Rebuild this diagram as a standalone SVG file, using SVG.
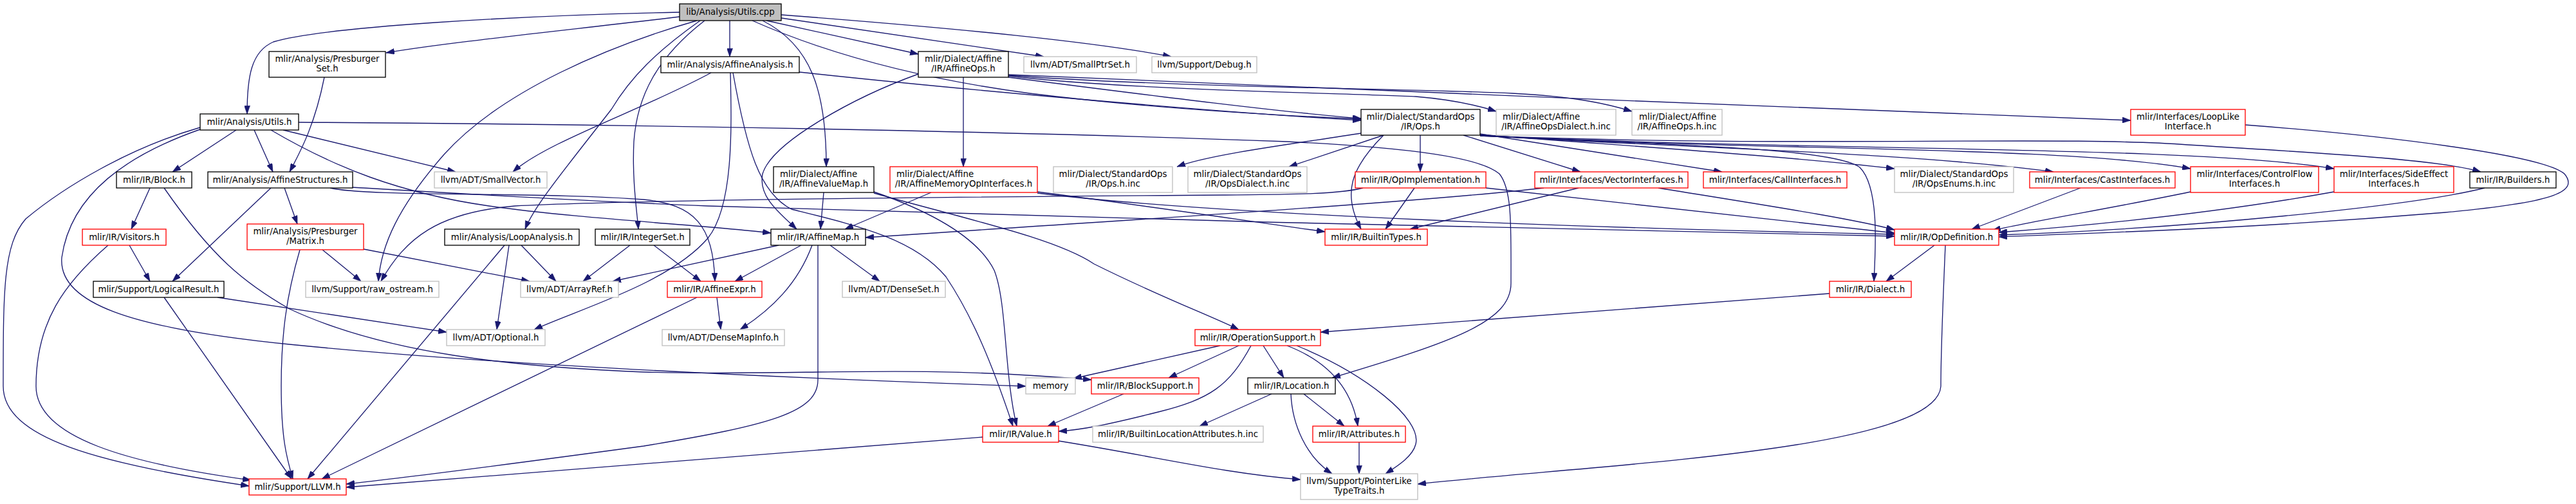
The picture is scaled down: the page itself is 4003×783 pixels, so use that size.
<svg xmlns="http://www.w3.org/2000/svg" width="4003" height="783" viewBox="0 0 4003 783">
<style>
text{font-family:"DejaVu Sans","Liberation Sans",sans-serif;font-size:13.33px;fill:#000}
.c{text-anchor:middle}
.s{text-anchor:start}
.k{fill:#fff;stroke:#000;stroke-width:1.33}
.r{fill:#fff;stroke:#ff0000;stroke-width:1.33}
.g{fill:#fff;stroke:#bfbfbf;stroke-width:1.33}
.root{fill:#bfbfbf;stroke:#000;stroke-width:1.33}
#edges path{fill:none;stroke:#191970;stroke-width:1.33;marker-end:url(#a)}
</style>
<defs>
<marker id="a" viewBox="0 0 10 7" refX="10" refY="3.5" markerWidth="13" markerHeight="9" markerUnits="userSpaceOnUse" orient="auto">
<path d="M0,0 L10,3.5 L0,7 z" fill="#191970" stroke="#191970" stroke-width="0.5"/>
</marker>
</defs>
<rect width="4003" height="783" fill="#fff"/>
<g id="edges">
<!-- root -->
<path d="M1056,19 C800,24 500,42 425,65 C390,80 384,120 384,177"/>
<path d="M1056,26 C900,45 700,65 600,82"/>
<path d="M1134,32 L1134,88"/>
<path d="M1191,32 L1427,84"/>
<path d="M1214,28 L1622,88"/>
<path d="M1214,23 C1500,45 1700,65 1820,88"/>
<path d="M1185,32 C1260,70 1284,140 1284,259"/>
<path d="M1083,32 C950,70 780,140 690,240 C620,320 592,380 588,437"/>
<path d="M1088,32 C1020,80 980,120 950,170 C880,260 830,320 816,356"/>
<path d="M1095,32 C1020,90 990,150 985,220 C982,280 990,330 992,356"/>
<path d="M1169,32 C1300,90 1450,125 1600,145 C1800,170 2000,180 2115,185"/>
<!-- AffineAnalysis -->
<path d="M1242,112 C1500,140 1900,175 2115,187"/>
<path d="M1105,113 C1000,170 850,220 797,267"/>
<path d="M1135,113 C1137,200 1140,320 1100,370 C1040,440 900,480 830,512"/>
<path d="M1139,113 C1160,230 1180,300 1230,325 C1330,350 1420,370 1470,430 C1510,490 1540,560 1574,662"/>
<!-- AffineOps -->
<path d="M1567,120 C1800,150 2000,175 2115,184"/>
<path d="M1567,118 C1750,140 2100,145 2200,150 C2260,155 2300,165 2325,173"/>
<path d="M1567,117 C1800,135 2200,138 2350,145 C2450,150 2500,162 2536,173"/>
<path d="M1567,116 C2000,135 2800,168 3311,187"/>
<path d="M1497,120 L1497,259"/>
<path d="M1427,115 C1330,150 1200,220 1185,270 C1178,305 1210,330 1238,356"/>
<!-- PresburgerSet -->
<path d="M504,120 C490,190 470,230 450,267"/>
<!-- Utils.h -->
<path d="M367,202 L268,267"/>
<path d="M395,202 L424,267"/>
<path d="M440,202 L708,267"/>
<path d="M421,202 C520,260 620,300 760,320 C900,340 1100,350 1198,362"/>
<path d="M464,190 C1000,193 1600,205 2000,220 C2200,230 2300,245 2330,270 C2350,295 2348,350 2348,440 C2348,500 2260,530 2070,587"/>
<path d="M311,198 C200,230 100,290 40,340 C5,380 5,450 5,600 C5,680 150,720 387,755"/>
<path d="M311,201 C200,240 110,300 96,400 C90,470 200,510 450,535 C800,570 1300,590 1594,600"/>
<!-- Block -->
<path d="M233,292 L204,356"/>
<path d="M255,292 C330,400 380,440 450,480 C600,550 800,570 1000,578 C1250,585 1400,565 1696,590"/>
<!-- AffineStructures -->
<path d="M421,292 L268,437"/>
<path d="M442,292 L462,348"/>
<path d="M513,292 C570,306 850,298 1000,310 C1080,318 1108,350 1111,437"/>
<path d="M548,291 C700,300 900,312 1100,320 C1600,338 2500,358 2944,367"/>
<!-- Visitors -->
<path d="M201,381 L233,437"/>
<path d="M168,381 C100,440 56,500 56,600 C56,680 200,720 390,746"/>
<!-- LogicalResult -->
<path d="M338,462 L694,516"/>
<path d="M255,462 L453,744"/>
<!-- Matrix -->
<path d="M501,388 L561,437"/>
<path d="M466,388 C445,460 437,520 437,600 C437,680 445,710 455,744"/>
<path d="M565,387 L823,437"/>
<!-- LoopAnalysis -->
<path d="M784,381 L478,744"/>
<path d="M791,381 L772,512"/>
<path d="M810,381 L864,437"/>
<!-- IntegerSet -->
<path d="M979,381 L906,437"/>
<path d="M1016,381 L1089,437"/>
<!-- AffineValueMap -->
<path d="M1280,299 L1275,356"/>
<path d="M1358,298 C1450,330 1520,370 1545,420 C1565,470 1560,580 1580,662"/>
<path d="M1358,300 C1500,340 1640,370 1700,410 C1800,460 1880,490 1925,512"/>
<!-- AffineMemoryOpInterfaces -->
<path d="M1447,299 L1313,356"/>
<path d="M1612,298 C1800,322 1950,345 2059,360"/>
<path d="M1612,300 C1900,335 2500,355 2944,364"/>
<!-- AffineMap -->
<path d="M1210,381 L952,437"/>
<path d="M1245,381 L1142,437"/>
<path d="M1262,381 C1240,440 1200,480 1150,512"/>
<path d="M1271,381 L1271,590 C1271,640 1200,660 1000,693 C800,720 650,740 538,752"/>
<path d="M1290,381 L1367,437"/>
<!-- AffineExpr -->
<path d="M1114,462 L1120,512"/>
<path d="M1083,462 L500,744"/>
<!-- Ops.h -->
<path d="M2115,207 C2000,225 1880,240 1829,259"/>
<path d="M2150,210 L2003,259"/>
<path d="M2150,210 C2100,260 2085,300 2115,356"/>
<path d="M2207,210 L2207,267"/>
<path d="M2274,210 L2456,267"/>
<path d="M2300,208 L2676,267"/>
<path d="M2300,209 C2500,225 2750,240 2944,262"/>
<path d="M2300,210 C2600,230 2950,235 3191,267"/>
<path d="M2300,210 C2700,235 3200,225 3404,262"/>
<path d="M2300,211 C2800,235 3400,225 3627,262"/>
<path d="M2300,211 C2800,230 3200,210 3400,225 C3650,240 3800,250 3855,267"/>
<path d="M2300,211 C2600,225 2850,230 2890,260 C2920,290 2915,380 2912,437"/>
<!-- OpImplementation -->
<path d="M2309,292 L2944,362"/>
<path d="M2198,292 L2153,356"/>
<path d="M2118,292 C2080,302 2000,302 1900,303 C1500,306 1000,310 800,320 C680,330 630,370 592,437"/>
<!-- VectorInterfaces -->
<path d="M2399,292 C2200,315 1700,345 1345,369"/>
<path d="M2453,292 L2191,356"/>
<path d="M2577,292 C2750,320 2880,340 2944,357"/>
<!-- Interfaces to OpDefinition -->
<path d="M3233,292 L3064,356"/>
<path d="M3404,298 C3300,320 3150,345 3096,358"/>
<path d="M3627,298 C3450,330 3250,350 3106,361"/>
<path d="M3861,292 C3750,320 3400,355 3106,365"/>
<path d="M3489,194 C3700,210 3950,240 3985,270 C4010,300 3960,315 3800,330 C3500,355 3300,360 3106,368"/>
<!-- OpDefinition -->
<path d="M3006,381 L2931,437"/>
<path d="M3023,381 C3020,450 3016,550 3016,600 C3010,700 2500,720 2203,752"/>
<!-- Dialect -->
<path d="M2843,456 L2052,516"/>
<!-- OperationSupport -->
<path d="M1896,537 L1668,588"/>
<path d="M1925,537 L1816,587"/>
<path d="M1944,537 C1910,600 1880,620 1800,640 C1720,660 1680,668 1645,670"/>
<path d="M1963,537 L1995,587"/>
<path d="M2000,537 C2060,560 2100,600 2110,662"/>
<path d="M2015,537 C2120,580 2210,650 2200,690 C2195,710 2170,725 2153,736"/>
<!-- Location -->
<path d="M1976,612 L1864,662"/>
<path d="M2026,612 L2089,662"/>
<path d="M2006,612 C2008,660 2030,710 2070,736"/>
<!-- Attributes -->
<path d="M2112,687 L2112,736"/>
<!-- BlockSupport -->
<path d="M1746,612 L1628,662"/>
<!-- Value -->
<path d="M1527,679 L538,757"/>
<path d="M1645,685 C1800,710 1900,735 2021,745"/>
</g>
<g id="n_utils_cpp"><rect class="root" x="1056" y="6" width="158" height="26"/><text class="c" x="1135" y="23">lib/Analysis/Utils.cpp</text></g>
<g id="n_presburger_set"><rect class="k" x="418" y="80" width="181" height="40"/><text class="c" x="508.5" y="96">mlir/Analysis/Presburger</text><text class="c" x="508.5" y="111">Set.h</text></g>
<g id="n_affine_analysis"><rect class="k" x="1027" y="88" width="215" height="25"/><text class="c" x="1134.5" y="105">mlir/Analysis/AffineAnalysis.h</text></g>
<g id="n_affine_ops"><rect class="k" x="1427" y="80" width="140" height="40"/><text class="c" x="1497" y="96">mlir/Dialect/Affine</text><text class="c" x="1497" y="111">/IR/AffineOps.h</text></g>
<g id="n_smallptrset"><rect class="g" x="1591" y="88" width="175" height="25"/><text class="c" x="1678.5" y="105">llvm/ADT/SmallPtrSet.h</text></g>
<g id="n_debug"><rect class="g" x="1790" y="88" width="163" height="25"/><text class="c" x="1871.5" y="105">llvm/Support/Debug.h</text></g>
<g id="n_utils_h"><rect class="k" x="311" y="177" width="153" height="25"/><text class="c" x="387.5" y="194">mlir/Analysis/Utils.h</text></g>
<g id="n_std_ops"><rect class="k" x="2115" y="170" width="185" height="40"/><text class="c" x="2207.5" y="186">mlir/Dialect/StandardOps</text><text class="c" x="2207.5" y="201">/IR/Ops.h</text></g>
<g id="n_affine_ops_dialect_inc"><rect class="g" x="2325" y="170" width="186" height="40"/><text class="s" x="2335" y="186">mlir/Dialect/Affine</text><text class="c" x="2418" y="201">/IR/AffineOpsDialect.h.inc</text></g>
<g id="n_affine_ops_inc"><rect class="g" x="2536" y="170" width="140" height="40"/><text class="s" x="2547" y="186">mlir/Dialect/Affine</text><text class="c" x="2606" y="201">/IR/AffineOps.h.inc</text></g>
<g id="n_looplike"><rect class="r" x="3311" y="170" width="178" height="40"/><text class="c" x="3400" y="186">mlir/Interfaces/LoopLike</text><text class="c" x="3400" y="201">Interface.h</text></g>
<g id="n_block"><rect class="k" x="181" y="267" width="117" height="25"/><text class="c" x="239.5" y="284">mlir/IR/Block.h</text></g>
<g id="n_affine_structures"><rect class="k" x="323" y="267" width="225" height="25"/><text class="c" x="435.5" y="284">mlir/Analysis/AffineStructures.h</text></g>
<g id="n_smallvector"><rect class="g" x="675" y="267" width="175" height="25"/><text class="c" x="762.5" y="284">llvm/ADT/SmallVector.h</text></g>
<g id="n_affine_value_map"><rect class="k" x="1202" y="259" width="156" height="40"/><text class="s" x="1212" y="275">mlir/Dialect/Affine</text><text class="c" x="1280" y="290">/IR/AffineValueMap.h</text></g>
<g id="n_affine_mem_op"><rect class="r" x="1383" y="259" width="229" height="40"/><text class="s" x="1393" y="275">mlir/Dialect/Affine</text><text class="c" x="1497.5" y="290">/IR/AffineMemoryOpInterfaces.h</text></g>
<g id="n_ops_inc"><rect class="g" x="1637" y="259" width="185" height="40"/><text class="c" x="1729.5" y="275">mlir/Dialect/StandardOps</text><text class="c" x="1729.5" y="290">/IR/Ops.h.inc</text></g>
<g id="n_ops_dialect_inc"><rect class="g" x="1846" y="259" width="185" height="40"/><text class="c" x="1938.5" y="275">mlir/Dialect/StandardOps</text><text class="c" x="1938.5" y="290">/IR/OpsDialect.h.inc</text></g>
<g id="n_op_impl"><rect class="r" x="2106" y="267" width="203" height="25"/><text class="c" x="2207.5" y="284">mlir/IR/OpImplementation.h</text></g>
<g id="n_vector_if"><rect class="r" x="2385" y="267" width="238" height="25"/><text class="c" x="2504" y="284">mlir/Interfaces/VectorInterfaces.h</text></g>
<g id="n_call_if"><rect class="r" x="2647" y="267" width="223" height="25"/><text class="c" x="2758.5" y="284">mlir/Interfaces/CallInterfaces.h</text></g>
<g id="n_ops_enums_inc"><rect class="g" x="2944" y="259" width="185" height="40"/><text class="c" x="3036.5" y="275">mlir/Dialect/StandardOps</text><text class="c" x="3036.5" y="290">/IR/OpsEnums.h.inc</text></g>
<g id="n_cast_if"><rect class="r" x="3154" y="267" width="226" height="25"/><text class="c" x="3267" y="284">mlir/Interfaces/CastInterfaces.h</text></g>
<g id="n_control_flow"><rect class="r" x="3404" y="259" width="199" height="40"/><text class="c" x="3503.5" y="275">mlir/Interfaces/ControlFlow</text><text class="c" x="3503.5" y="290">Interfaces.h</text></g>
<g id="n_side_effect"><rect class="r" x="3627" y="259" width="186" height="40"/><text class="c" x="3720" y="275">mlir/Interfaces/SideEffect</text><text class="c" x="3720" y="290">Interfaces.h</text></g>
<g id="n_builders"><rect class="k" x="3838" y="267" width="134" height="25"/><text class="c" x="3905" y="284">mlir/IR/Builders.h</text></g>
<g id="n_visitors"><rect class="r" x="128" y="356" width="130" height="25"/><text class="c" x="193" y="373">mlir/IR/Visitors.h</text></g>
<g id="n_matrix"><rect class="r" x="384" y="348" width="181" height="40"/><text class="c" x="474.5" y="364">mlir/Analysis/Presburger</text><text class="c" x="474.5" y="379">/Matrix.h</text></g>
<g id="n_loop_analysis"><rect class="k" x="691" y="356" width="209" height="25"/><text class="c" x="795.5" y="373">mlir/Analysis/LoopAnalysis.h</text></g>
<g id="n_integer_set"><rect class="k" x="925" y="356" width="147" height="25"/><text class="c" x="998.5" y="373">mlir/IR/IntegerSet.h</text></g>
<g id="n_affine_map"><rect class="k" x="1198" y="356" width="147" height="25"/><text class="c" x="1271.5" y="373">mlir/IR/AffineMap.h</text></g>
<g id="n_builtin_types"><rect class="r" x="2059" y="356" width="159" height="25"/><text class="c" x="2138.5" y="373">mlir/IR/BuiltinTypes.h</text></g>
<g id="n_op_def"><rect class="r" x="2944" y="356" width="162" height="25"/><text class="c" x="3025" y="373">mlir/IR/OpDefinition.h</text></g>
<g id="n_logical_result"><rect class="k" x="145" y="437" width="203" height="25"/><text class="c" x="246.5" y="454">mlir/Support/LogicalResult.h</text></g>
<g id="n_raw_ostream"><rect class="g" x="475" y="437" width="207" height="25"/><text class="c" x="578.5" y="454">llvm/Support/raw_ostream.h</text></g>
<g id="n_arrayref"><rect class="g" x="809" y="437" width="152" height="25"/><text class="c" x="885" y="454">llvm/ADT/ArrayRef.h</text></g>
<g id="n_affine_expr"><rect class="r" x="1037" y="437" width="147" height="25"/><text class="c" x="1110.5" y="454">mlir/IR/AffineExpr.h</text></g>
<g id="n_denseset"><rect class="g" x="1309" y="437" width="160" height="25"/><text class="c" x="1389" y="454">llvm/ADT/DenseSet.h</text></g>
<g id="n_dialect"><rect class="r" x="2843" y="437" width="127" height="25"/><text class="c" x="2906.5" y="454">mlir/IR/Dialect.h</text></g>
<g id="n_optional"><rect class="g" x="694" y="512" width="153" height="25"/><text class="c" x="770.5" y="529">llvm/ADT/Optional.h</text></g>
<g id="n_densemapinfo"><rect class="g" x="1029" y="512" width="190" height="25"/><text class="c" x="1124" y="529">llvm/ADT/DenseMapInfo.h</text></g>
<g id="n_operation_support"><rect class="r" x="1857" y="512" width="195" height="25"/><text class="c" x="1954.5" y="529">mlir/IR/OperationSupport.h</text></g>
<g id="n_memory"><rect class="g" x="1594" y="587" width="77" height="25"/><text class="c" x="1632.5" y="604">memory</text></g>
<g id="n_block_support"><rect class="r" x="1696" y="587" width="167" height="25"/><text class="c" x="1779.5" y="604">mlir/IR/BlockSupport.h</text></g>
<g id="n_location"><rect class="k" x="1939" y="587" width="136" height="25"/><text class="c" x="2007" y="604">mlir/IR/Location.h</text></g>
<g id="n_value"><rect class="r" x="1527" y="662" width="118" height="25"/><text class="c" x="1586" y="679">mlir/IR/Value.h</text></g>
<g id="n_builtin_loc_attr"><rect class="g" x="1698" y="662" width="265" height="25"/><text class="c" x="1830.5" y="679">mlir/IR/BuiltinLocationAttributes.h.inc</text></g>
<g id="n_attributes"><rect class="r" x="2040" y="662" width="144" height="25"/><text class="c" x="2112" y="679">mlir/IR/Attributes.h</text></g>
<g id="n_llvm"><rect class="r" x="387" y="744" width="151" height="25"/><text class="c" x="462.5" y="761">mlir/Support/LLVM.h</text></g>
<g id="n_pointer_like"><rect class="g" x="2021" y="736" width="182" height="40"/><text class="c" x="2112" y="752">llvm/Support/PointerLike</text><text class="c" x="2112" y="767">TypeTraits.h</text></g>
</svg>
